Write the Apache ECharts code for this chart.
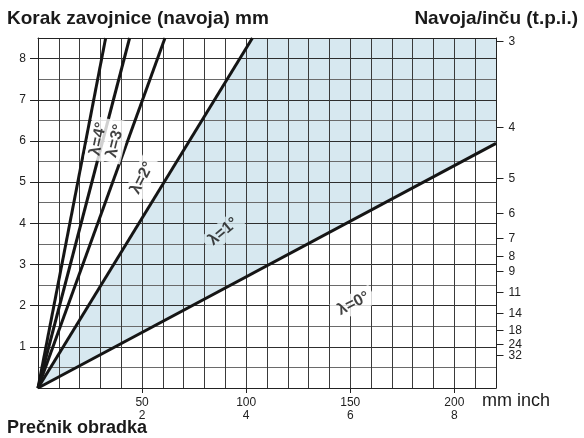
<!DOCTYPE html>
<html>
<head>
<meta charset="utf-8">
<script src="https://cdn.jsdelivr.net/npm/echarts@6/dist/echarts.min.js"></script>
<style>html,body{margin:0;padding:0;background:#fff}#c{width:584px;height:438px}</style>
</head>
<body>
<div id="c"></div>
<script>
// ---- data ----
const yLeftTicks = [1, 2, 3, 4, 5, 6, 7, 8];                 // pitch, mm
const xTicksMm = [50, 100, 150, 200];                        // workpiece diameter, mm
const xTicksInch = ['2', '4', '6', '8'];                     // same ticks, inch
const tpiLabels = ['3', '4', '5', '6', '7', '8', '9', '11', '14', '18', '24', '32'];
const tpiPitch = [8.42, 6.33, 5.1, 4.24, 3.64, 3.2, 2.84, 2.33, 1.83, 1.42, 1.07, 0.8];
// boundary lines start at origin and end here
const boundaryEndX = [32.5, 44, 61, 103, 220];
const boundaryEndY = [8.5, 8.5, 8.5, 8.5, 5.94];
// zone labels
const zoneLabels = ['λ=4°', 'λ=3°', 'λ=2°', 'λ=1°', 'λ=0°'];
const zoneLabelX = [29.0, 37.2, 50.0, 89.0, 151.5];
const zoneLabelY = [6.05, 6.0, 5.1, 3.8, 2.05];

const X_MAX = 220, Y_MAX = 8.5;
const BLUE = '#d7e8f0';
const FONT = 'Liberation Sans';
const labelRot = [78, 76, 63, 40, 27];
const labelBg = ['#fff', '#fff', '#fff', BLUE, '#fff'];

const chart = echarts.init(document.getElementById('c'), null, {renderer: 'canvas'});

const boundarySeries = boundaryEndX.map((ex, i) => ({
  type: 'line',
  data: [[0, 0], [ex, boundaryEndY[i]]],
  symbol: 'none',
  silent: true,
  z: 4,
  lineStyle: {color: '#151515', width: 3}
}));

const labelSeries = {
  type: 'scatter',
  symbolSize: 0,
  silent: true,
  z: 6,
  data: zoneLabels.map((t, i) => ({
    value: [zoneLabelX[i], zoneLabelY[i]],
    label: {
      show: true, position: 'inside', formatter: t,
      rotate: labelRot[i],
      fontFamily: FONT, fontWeight: 'bold', fontSize: 16, color: '#111',
      backgroundColor: labelBg[i], padding: [2, 5]
    }
  }))
};

// shaded region: origin, end of λ=1° boundary, top-right corner, end of λ=0° boundary
const polyPts = [[0, 0], [boundaryEndX[3], boundaryEndY[3]], [X_MAX, Y_MAX], [boundaryEndX[4], boundaryEndY[4]]];
const areaSeries = {
  type: 'custom',
  silent: true,
  z: -1,
  data: [0],
  renderItem: (params, api) => ({
    type: 'polygon',
    shape: {points: polyPts.map(p => api.coord(p))},
    style: {fill: BLUE}
  })
};

// right-hand threads-per-inch scale, placed at the pitch each tpi corresponds to
const tpiSeries = {
  type: 'custom',
  silent: true,
  clip: false,
  z: 5,
  data: tpiPitch.map(p => [X_MAX, p]),
  renderItem: (params, api) => {
    const pt = api.coord([api.value(0), api.value(1)]);
    const x = Math.round(pt[0]) + 0.5, y = Math.round(pt[1]) + 0.5;
    return {
      type: 'group',
      children: [
        {type: 'line', shape: {x1: x, y1: y, x2: x + 7, y2: y}, style: {stroke: '#222', lineWidth: 1}},
        {type: 'text', x: x + 12, y: y, style: {text: tpiLabels[params.dataIndex], fill: '#222', font: '12px "Liberation Sans"', verticalAlign: 'middle', align: 'left'}}
      ]
    };
  }
};

const gridLine = {show: true, lineStyle: {color: '#3a3a3a', width: 1}};
const hidden = {show: false};

chart.setOption({
  animation: false,
  backgroundColor: '#fff',
  textStyle: {fontFamily: FONT},
  grid: {left: 38, right: 88, top: 38, bottom: 50},
  xAxis: [{
    type: 'value', min: 0, max: X_MAX, interval: 10, position: 'bottom',
    axisLine: {show: true, onZero: false, lineStyle: {color: '#222', width: 1}},
    axisTick: hidden, axisLabel: hidden,
    splitLine: gridLine
  }, {
    type: 'value', min: 0, max: X_MAX, position: 'bottom',
    axisLine: {show: false, onZero: false},
    axisTick: {show: true, customValues: xTicksMm, length: 5, lineStyle: {color: '#222'}},
    axisLabel: {
      customValues: xTicksMm, margin: 8, fontSize: 12, lineHeight: 13, color: '#222',
      formatter: v => { const i = xTicksMm.indexOf(v); return i < 0 ? '' : v + '\n' + xTicksInch[i]; }
    },
    splitLine: hidden
  }, {
    type: 'value', min: 0, max: X_MAX, position: 'top',
    axisLine: {show: true, onZero: false, lineStyle: {color: '#222', width: 1}},
    axisTick: hidden, axisLabel: hidden, splitLine: hidden
  }],
  yAxis: [{
    type: 'value', min: 0, max: Y_MAX, interval: 0.5, position: 'left',
    axisLine: {show: true, onZero: false, lineStyle: {color: '#222'}},
    axisTick: hidden, axisLabel: hidden,
    splitLine: {show: true, lineStyle: {color: ['#2e2e2e', '#6a6a6a'], width: 1}}
  }, {
    type: 'value', min: 0, max: Y_MAX, position: 'left',
    axisLine: {show: false, onZero: false},
    axisTick: {show: true, customValues: yLeftTicks, length: 8, lineStyle: {color: '#222'}},
    axisLabel: {customValues: yLeftTicks, margin: 12, fontSize: 12, color: '#222'},
    splitLine: hidden
  }, {
    type: 'value', min: 0, max: Y_MAX, position: 'right',
    axisLine: {show: true, onZero: false, lineStyle: {color: '#222'}},
    axisTick: hidden, axisLabel: hidden, splitLine: hidden
  }],
  graphic: [
    {type: 'text', left: 7, top: 9, style: {text: 'Korak zavojnice (navoja) mm', font: 'bold 19px "Liberation Sans"', fill: '#1a1a1a'}},
    {type: 'text', right: 6, top: 9, style: {text: 'Navoja/inču (t.p.i.)', font: 'bold 19px "Liberation Sans"', fill: '#1a1a1a'}},
    {type: 'text', left: 482, top: 392, style: {text: 'mm inch', font: '18px "Liberation Sans"', fill: '#1a1a1a'}},
    {type: 'text', left: 7, top: 419, style: {text: 'Prečnik obradka', font: 'bold 18px "Liberation Sans"', fill: '#1a1a1a'}}
  ],
  series: [areaSeries, ...boundarySeries, labelSeries, tpiSeries]
});
</script>
</body>
</html>
